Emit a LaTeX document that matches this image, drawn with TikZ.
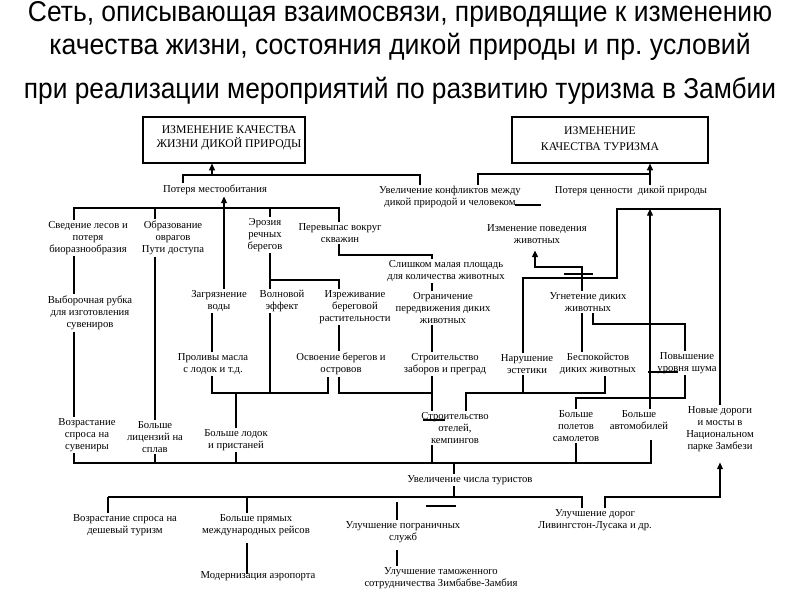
\documentclass[tikz,border=0pt]{standalone}
\usepackage{fontspec}
\setmainfont{Liberation Serif}
\newfontfamily\titlefont{Liberation Sans}
\usetikzlibrary{arrows.meta}
\begin{document}
\begin{tikzpicture}[x=0.75pt,y=-0.75pt,
  lbl/.style={font=\fontsize{8pt}{9pt}\selectfont, align=center, inner sep=1pt},
  capl/.style={font=\fontsize{8.8pt}{9pt}\selectfont, align=center, inner sep=1pt},
  conn/.style={line width=0.9pt},
  arr/.style={conn,-{Triangle[length=5pt,width=4.5pt]}},
  boxn/.style={draw, line width=0.9pt, inner sep=0pt},
  ttl/.style={font=\titlefont\fontsize{21.5pt}{24pt}\selectfont, anchor=base, inner sep=0pt}]
\useasboundingbox (0,0) rectangle (800,600);

% titles
\node[ttl] (t1) at (400,21) {\resizebox{558pt}{\height}{Сеть, описывающая взаимосвязи, приводящие к изменению}};
\node[ttl] (t2) at (400,54) {\resizebox{526pt}{\height}{качества жизни, состояния дикой природы и пр.\ условий}};
\node[ttl] (t3) at (400,98) {\resizebox{564pt}{\height}{при реализации мероприятий по развитию туризма в Замбии}};

% boxes
\node[boxn, minimum width=121.5pt, minimum height=34.5pt] (b1) at (224,140) {};
\node[capl] (b1t) at (229,138) {ИЗМЕНЕНИЕ КАЧЕСТВА\\[1.5pt]ЖИЗНИ ДИКОЙ ПРИРОДЫ};
\node[boxn, minimum width=147pt, minimum height=34.5pt] (b2) at (610,140) {};
\node[capl] (b2t) at (600,139) {ИЗМЕНЕНИЕ\\[3pt]КАЧЕСТВА ТУРИЗМА};

% nodes
\node[lbl] (potm) at (215,190) {Потеря местообитания};
\node[lbl] (konf) at (450,197) {Увеличение конфликтов между\\дикой природой и человеком};
\node[lbl] (potc) at (631,191) {Потеря ценности~ дикой природы};
\node[lbl] (sved) at (88,238) {Сведение лесов и\\потеря\\биоразнообразия};
\node[lbl] (obr) at (173,238) {Образование\\оврагов\\Пути доступа};
\node[lbl] (eroz) at (265,235) {Эрозия\\речных\\берегов};
\node[lbl] (perev) at (340,233) {Перевыпас вокруг\\скважин};
\node[lbl] (izmp) at (537,234) {Изменение поведения\\животных};
\node[lbl] (slish) at (446,271) {Слишком малая площадь\\для количества животных};
\node[lbl] (vyb) at (90,313) {Выборочная рубка\\для изготовления\\сувениров};
\node[lbl] (zagr) at (219,301) {Загрязнение\\воды};
\node[lbl] (voln) at (282,301) {Волновой\\эффект};
\node[lbl] (izre) at (355,307) {Изреживание\\береговой\\растительности};
\node[lbl] (ogr) at (443,308) {Ограничение\\передвижения диких\\животных};
\node[lbl] (ugn) at (588,302) {Угнетение диких\\животных};
\node[lbl] (prol) at (213,364) {Проливы масла\\с лодок и т.д.};
\node[lbl] (osv) at (341,364) {Освоение берегов и\\островов};
\node[lbl] (zab) at (445,364) {Строительство\\заборов и преград};
\node[lbl] (nar) at (527,364) {Нарушение\\эстетики};
\node[lbl] (besp) at (598,364) {Беспокойстов\\диких животных};
\node[lbl] (shum) at (687,363) {Повышение\\уровня шума};
\node[lbl] (vozs) at (87,435) {Возрастание\\спроса на\\сувениры};
\node[lbl] (lic) at (155,437) {Больше\\лицензий на\\сплав};
\node[lbl] (lod) at (236,440) {Больше лодок\\и пристаней};
\node[lbl] (otel) at (455,428) {Строительство\\отелей,\\кемпингов};
\node[lbl] (pol) at (576,426) {Больше\\полетов\\самолетов};
\node[lbl] (avt) at (639,420) {Больше\\автомобилей};
\node[lbl] (nov) at (720,429) {Новые дороги\\и мосты в\\Национальном\\парке Замбези};
\node[lbl] (tur) at (470,480) {Увеличение числа туристов};
\node[lbl] (desh) at (125,525) {Возрастание спроса на\\дешевый туризм};
\node[lbl] (pryam) at (256,525) {Больше прямых\\международных рейсов};
\node[lbl] (pogr) at (403,532) {Улучшение пограничных\\служб};
\node[lbl] (dor) at (595,520) {Улучшение дорог\\Ливингстон-Лусака и др.};
\node[lbl] (aero) at (258,576) {Модернизация аэропорта};
\node[lbl] (tam) at (441,578) {Улучшение таможенного\\сотрудничества Зимбабве-Замбия};

% top connectors
\draw[conn] (potm.north -| 183,0) -- (183,175) -- (420,175) -- (konf.north -| 420,0);
\draw[arr] (212,175) -- (b1.south -| 212,0);
\draw[conn] (konf.north -| 478,0) -- (478,174) -- (650,174);
\draw[arr] (potc.north -| 650,0) -- (b2.south -| 650,0);
\draw[conn] (515,205) -- (541,205);

% habitat bar
\draw[conn] (sved.north -| 74,0) -- (74,208) -- (339,208) -- (perev.north -| 339,0);
\draw[conn] (155,208) -- (obr.north -| 155,0);
\draw[conn] (270,208) -- (eroz.north -| 270,0);
\draw[arr] (zagr.north -| 224,0) -- (potm.south -| 224,0);

% left columns
\draw[conn] (sved.south -| 74,0) -- (vyb.north -| 74,0);
\draw[conn] (vyb.south -| 74,0) -- (vozs.north -| 74,0);
\draw[conn] (obr.south -| 155,0) -- (lic.north -| 155,0);
\draw[conn] (eroz.south -| 270,0) -- (voln.north -| 270,0);
\draw[conn] (270,280) -- (339,280) -- (izre.north -| 339,0);
\draw[conn] (voln.south -| 270,0) -- (270,393);
\draw[conn] (zagr.south -| 212,0) -- (prol.north -| 212,0);
\draw[conn] (prol.south -| 212,0) -- (212,393) -- (328,393) -- (osv.south -| 328,0);
\draw[conn] (236,393) -- (lod.north -| 236,0);

% middle
\draw[conn] (perev.south -| 339,0) -- (339,255) -- (432,255) -- (slish.north -| 432,0);
\draw[conn] (slish.south -| 432,0) -- (ogr.north -| 432,0);
\draw[conn] (izre.south -| 339,0) -- (osv.north -| 339,0);
\draw[conn] (ogr.south -| 432,0) -- (zab.north -| 432,0);
\draw[conn] (zab.south -| 432,0) -- (otel.north -| 432,0);
\draw[conn] (osv.south -| 339,0) -- (339,393) -- (432,393);
\draw[conn] (otel.north -| 466,0) -- (466,393) -- (605,393) -- (besp.south -| 605,0);
\draw[conn] (523,393) -- (nar.south -| 523,0);
\draw[conn] (423,420) -- (445,420);

% big bar
\draw[conn] (otel.south -| 432,0) -- (432,463);
\draw[conn] (vozs.south -| 74,0) -- (74,463) -- (651,463) -- (651,440);
\draw[conn] (155,463) -- (lic.south -| 155,0);
\draw[conn] (236,463) -- (lod.south -| 236,0);
\draw[conn] (576,463) -- (pol.south -| 576,0);
\draw[conn] (454,463) -- (tur.north -| 454,0);
\draw[conn] (tur.south -| 454,0) -- (454,497);

% lower bar
\draw[conn] (108,497) -- (582,497) -- (dor.north -| 582,0);
\draw[conn] (108,497) -- (desh.north -| 108,0);
\draw[conn] (247,497) -- (pryam.north -| 247,0);
\draw[conn] (397,502) -- (pogr.north -| 397,0);
\draw[conn] (426,506) -- (456,506);
\draw[conn, shorten <=4.5pt, shorten >=-3pt] (pryam.south -| 247,0) -- (aero.north -| 247,0);
\draw[conn, shorten <=4.5pt] (pogr.south -| 397,0) -- (tam.north -| 397,0);
\draw[arr, shorten >=7pt] (dor.north -| 605,0) -- (605,497) -- (720,497) -- (nov.south -| 720,0);

% right upper
\draw[arr, shorten >=4pt] (ugn.north -| 582,0) -- (582,267) -- (535,267) -- (izmp.south -| 535,0);
\draw[conn] (ugn.south -| 582,0) -- (besp.north -| 582,0);
\draw[conn] (564,274) -- (593,274);
\draw[conn] (nar.north -| 523,0) -- (523,278) -- (617,278) -- (617,209) -- (720,209) -- (nov.north -| 720,0);
\draw[arr] (avt.north -| 650,0) -- (650,209);
\draw[conn] (ugn.south -| 593,0) -- (593,324) -- (685,324) -- (shum.north -| 685,0);
\draw[conn] (shum.south -| 685,0) -- (685,398) -- (576,398) -- (pol.north -| 576,0);
\draw[conn] (648,372) -- (678,372);
\end{tikzpicture}
\end{document}
